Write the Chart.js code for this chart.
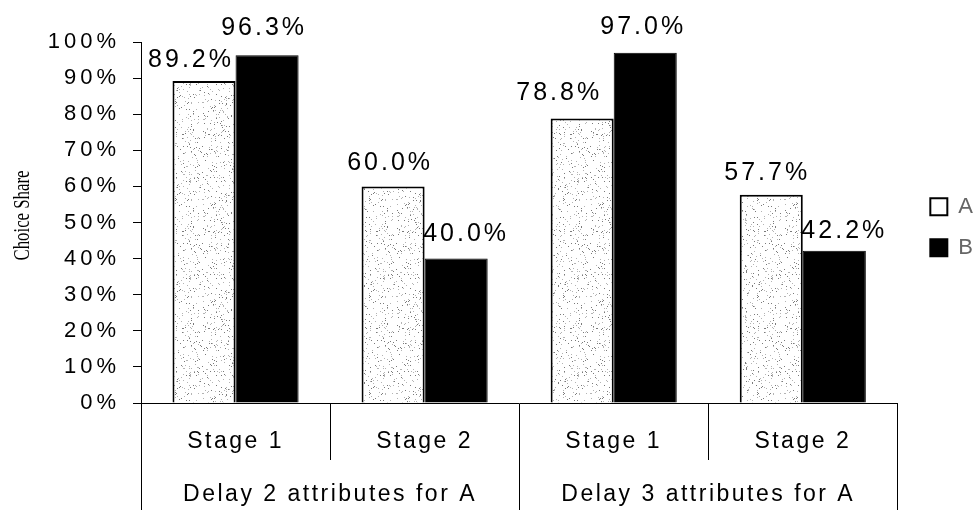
<!DOCTYPE html>
<html>
<head>
<meta charset="utf-8">
<title>Choice Share</title>
<script src="https://cdn.jsdelivr.net/npm/chart.js@4.4.1/dist/chart.umd.min.js"></script>
<style>
  html, body { margin: 0; padding: 0; background: #fff; }
  #wrap { width: 974px; height: 510px; }
</style>
</head>
<body>
<div id="wrap"><canvas id="choice"></canvas></div>
<script>
const stages = ["Stage 1", "Stage 2", "Stage 1", "Stage 2"];
const groups = ["Delay 2 attributes for A", "Delay 3 attributes for A"];
const shareA = [89.2, 60.0, 78.8, 57.7];
const shareB = [96.3, 40.0, 97.0, 42.2];
const yTicks = [0, 10, 20, 30, 40, 50, 60, 70, 80, 90, 100];

// per-label nudges [dx, gap above bar top]
const nudgeA = [[-13, 21], [-3, 23], [-23, 25], [-4, 22]];
const nudgeB = [[-3, 27], [10, 24], [-2, 26], [10, 20]];

const SANS = '"Liberation Sans", Arial, Helvetica, sans-serif';

// light speckled fill for the A bars (fixed integer hash, so it never changes)
function stipple() {
  const n = 97;
  const c = document.createElement('canvas');
  c.width = n; c.height = n;
  const g = c.getContext('2d');
  g.fillStyle = '#fff';
  g.fillRect(0, 0, n, n);
  for (let i = 0; i < n; i++) {
    for (let j = 0; j < n; j++) {
      let h = Math.imul(i, 374761393) + Math.imul(j, 668265263);
      h = Math.imul(h ^ (h >>> 13), 1274126177);
      h = (h ^ (h >>> 16)) >>> 0;
      const k = h % 100;
      if (k < 7) {
        g.fillStyle = k < 3 ? '#7a7a7a' : '#b4b4b4';
        g.fillRect(i, j, 1, 1);
      }
    }
  }
  return g.createPattern(c, 'repeat');
}

// wide letter spacing on the axis labels; the y title is a narrow serif,
// squeezed along its run and sat a little above the axis middle
const trackingBy = { y: '4px', x: '2.5px', x2: '2.5px' };
const tracking = {
  id: 'tracking',
  afterLayout(chart) {
    Object.values(chart.scales).forEach(s => {
      if (s._tracked) return;
      const px = trackingBy[s.id] || '0px';
      const labels = s.drawLabels, title = s.drawTitle;
      s.drawLabels = function (area) {
        const c = this.ctx, old = c.letterSpacing;
        c.letterSpacing = px;
        labels.call(this, area);
        c.letterSpacing = old;
      };
      s.drawTitle = function () {
        const c = this.ctx;
        const cy = (this.top + this.bottom) / 2;
        c.save();
        c.letterSpacing = '0px';
        c.translate(0, cy - 7);
        c.scale(1, 0.7);
        c.translate(0, -cy);
        title.call(this);
        c.restore();
      };
      s._tracked = true;
    });
  },
  beforeDraw(chart) { chart.ctx.letterSpacing = '2px'; },
  afterDraw(chart) { chart.ctx.letterSpacing = '0px'; }
};

// value labels above each bar
const nudges = [nudgeA, nudgeB];
const valueLabels = {
  id: 'valueLabels',
  afterDatasetsDraw(chart) {
    const ctx = chart.ctx;
    ctx.save();
    ctx.font = '25px ' + SANS;
    ctx.letterSpacing = '3px';
    ctx.fillStyle = '#000';
    ctx.textAlign = 'center';
    ctx.textBaseline = 'middle';
    chart.data.datasets.forEach((ds, i) => {
      chart.getDatasetMeta(i).data.forEach((bar, j) => {
        const [dx, dy] = nudges[i][j];
        ctx.fillText(ds.data[j].toFixed(1) + '%', bar.x + dx, bar.y - dy);
      });
    });
    ctx.restore();
  }
};

new Chart(document.getElementById('choice'), {
  type: 'bar',
  data: {
    labels: stages,
    datasets: [
      {
        label: 'A',
        data: shareA,
        backgroundColor: stipple(),
        borderColor: '#000',
        borderWidth: 2,
        categoryPercentage: 0.667,
        barPercentage: 1.0
      },
      {
        label: 'B',
        data: shareB,
        backgroundColor: '#000',
        borderColor: '#000',
        borderWidth: 1,
        categoryPercentage: 0.667,
        barPercentage: 1.0
      }
    ]
  },
  options: {
    responsive: true,
    maintainAspectRatio: false,
    animation: false,
    layout: { padding: { top: 42, right: -9, bottom: 0, left: 0 } },
    plugins: {
      tooltip: { enabled: false },
      legend: {
        position: 'right',
        align: 'center',
        fullSize: false,
        title: { display: true, text: ' ', padding: 0, font: { size: 8 } },
        labels: {
          color: '#000',
          font: { family: SANS, size: 22 },
          boxWidth: 17,
          boxHeight: 17,
          padding: 19,
          generateLabels(chart) {
            return chart.data.datasets.map((ds, i) => ({
              text: ds.label,
              fillStyle: i === 0 ? '#fff' : '#000',
              strokeStyle: '#000',
              lineWidth: 2,
              hidden: false,
              datasetIndex: i
            }));
          }
        }
      }
    },
    scales: {
      x: {
        position: 'bottom',
        offset: true,
        grid: {
          offset: true,
          drawOnChartArea: false,
          drawTicks: true,
          tickLength: 57,
          color: '#000',
          lineWidth: 1
        },
        border: { display: true, color: '#000', width: 1 },
        ticks: {
          color: '#000',
          font: { family: SANS, size: 23 },
          padding: -32,
          maxRotation: 0,
          autoSkip: false
        },
        afterFit(s) { s.height = 57; }
      },
      x2: {
        type: 'category',
        labels: groups,
        position: 'bottom',
        offset: true,
        grid: {
          offset: true,
          drawOnChartArea: false,
          drawTicks: true,
          tickLength: 50,
          color: '#000',
          lineWidth: 1
        },
        border: { display: false },
        ticks: {
          color: '#000',
          font: { family: SANS, size: 23 },
          padding: -29,
          maxRotation: 0,
          autoSkip: false
        },
        afterFit(s) { s.height = 50; }
      },
      y: {
        min: 0,
        max: 100,
        grid: { drawOnChartArea: false, tickLength: 8, color: '#000', lineWidth: 1 },
        border: { display: true, color: '#000', width: 1 },
        ticks: {
          color: '#000',
          font: { family: SANS, size: 22 },
          padding: 13,
          callback: v => v + '%'
        },
        afterBuildTicks(s) { s.ticks = yTicks.map(v => ({ value: v })); },
        title: {
          display: true,
          text: 'Choice Share',
          color: '#000',
          font: { family: '"Liberation Serif", "Times New Roman", serif', size: 24 },
          padding: { top: 8, bottom: 0 }
        },
        afterFit(s) { s.width = 141; }
      },
      gap: {
        type: 'linear',
        position: 'right',
        display: true,
        grid: { display: false },
        border: { display: false },
        ticks: { display: false },
        afterFit(s) { s.width = 14; }
      }
    }
  },
  plugins: [tracking, valueLabels]
});
</script>
</body>
</html>
